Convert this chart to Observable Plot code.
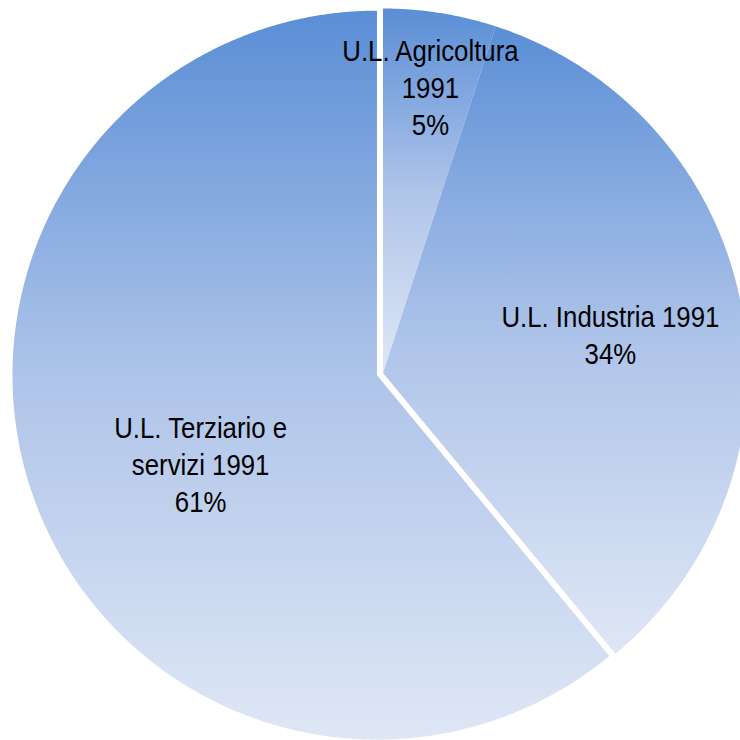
<!DOCTYPE html>
<html>
<head>
<meta charset="utf-8">
<script src="https://cdn.jsdelivr.net/npm/d3@7"></script>
<script src="https://cdn.jsdelivr.net/npm/@observablehq/plot@0.6"></script>
<style>
  html, body { margin: 0; padding: 0; background: #ffffff; }
  #chart svg { display: block; }
</style>
</head>
<body>
<div id="chart"></div>
<script>
// ---- data ----
const categories = ["U.L. Agricoltura 1991", "U.L. Industria 1991", "U.L. Terziario e servizi 1991"];
const labelLines = ["U.L. Agricoltura\n1991", "U.L. Industria 1991", "U.L. Terziario e\nservizi 1991"];
const shares = [5, 34, 61];
const percentLabels = ["5%", "34%", "61%"];

// ---- layout / style constants ----
const explode = [0, 0, 0.0176];          // slice offset along its bisector (unit radius)
const labelRadius = [0.797, 0.633, 0.541];
const labelAngleShiftDeg = [0.4, 1, -6.8];
const gradStops = [[0, "#5a8ed6"], [0.5, "#aec4e9"], [1, "#dfe7f5"]];
const textScaleX = 0.86; // emulate the narrow face of the original

const data = categories.map((c, i) => ({name: c, share: shares[i], i}));
const arcs = d3.pie().sort(null).value(d => d.share)(data);

// polygon outline points for each slice (unit circle, angles clockwise from top)
const slicePts = [];
arcs.forEach((a, i) => {
  const mid = (a.startAngle + a.endAngle) / 2;
  const ox = explode[i] * Math.sin(mid), oy = explode[i] * Math.cos(mid);
  const n = Math.max(2, Math.ceil((a.endAngle - a.startAngle) / 0.004));
  slicePts.push({name: a.data.name, i, x: ox, y: oy});
  for (let k = 0; k <= n; k++) {
    const t = a.startAngle + (a.endAngle - a.startAngle) * k / n;
    slicePts.push({name: a.data.name, i, x: ox + Math.sin(t), y: oy + Math.cos(t)});
  }
  slicePts.push({name: a.data.name, i, x: ox, y: oy});
});

const labels = arcs.map((a, i) => {
  const mid = (a.startAngle + a.endAngle) / 2;
  const ox = explode[i] * Math.sin(mid), oy = explode[i] * Math.cos(mid);
  const t = mid + labelAngleShiftDeg[i] * Math.PI / 180;
  return {x: ox + labelRadius[i] * Math.sin(t), y: oy + labelRadius[i] * Math.cos(t),
          text: labelLines[i] + "\n" + percentLabels[i]};
});

const defsMark = () => {
  const defs = d3.create("svg:defs");
  categories.forEach((c, i) => {
    const g = defs.append("linearGradient").attr("id", "grad" + i)
      .attr("x1", 0).attr("y1", 0).attr("x2", 0).attr("y2", 1);
    gradStops.forEach(([o, col]) => g.append("stop").attr("offset", o).attr("stop-color", col));
  });
  return defs.node();
};

const chart = Plot.plot({
  width: 740,
  height: 740,
  x: {domain: [-1, 1], range: [18, 747], axis: null},
  y: {domain: [-1, 1], range: [737, 8], axis: null},
  color: {type: "identity"},
  marks: [
    defsMark,
    Plot.line(slicePts, {
      x: "x", y: "y", z: "name",
      fill: d => "url(#grad" + d.i + ")",
      stroke: "none", curve: "linear"
    }),
    Plot.text(labels, {
      x: "x", y: "y", text: "text",
      fontSize: 30, lineHeight: 1.23,
      fontFamily: "'Liberation Sans', Arial, sans-serif",
      fill: "black", textAnchor: "middle", lineAnchor: "middle"
    })
  ]
});

// horizontally condense the label text around each anchor point
d3.select(chart).selectAll("text").each(function() {
  const el = d3.select(this);
  let tr = el.attr("transform") || "";
  const x = el.attr("x"), y = el.attr("y");
  if (x != null || y != null) {
    tr = `translate(${+x || 0},${+y || 0}) ` + tr;
    el.attr("x", null).attr("y", null);
  }
  el.attr("transform", tr + ` scale(${textScaleX},1)`);
});

document.getElementById("chart").appendChild(chart);
</script>
</body>
</html>
